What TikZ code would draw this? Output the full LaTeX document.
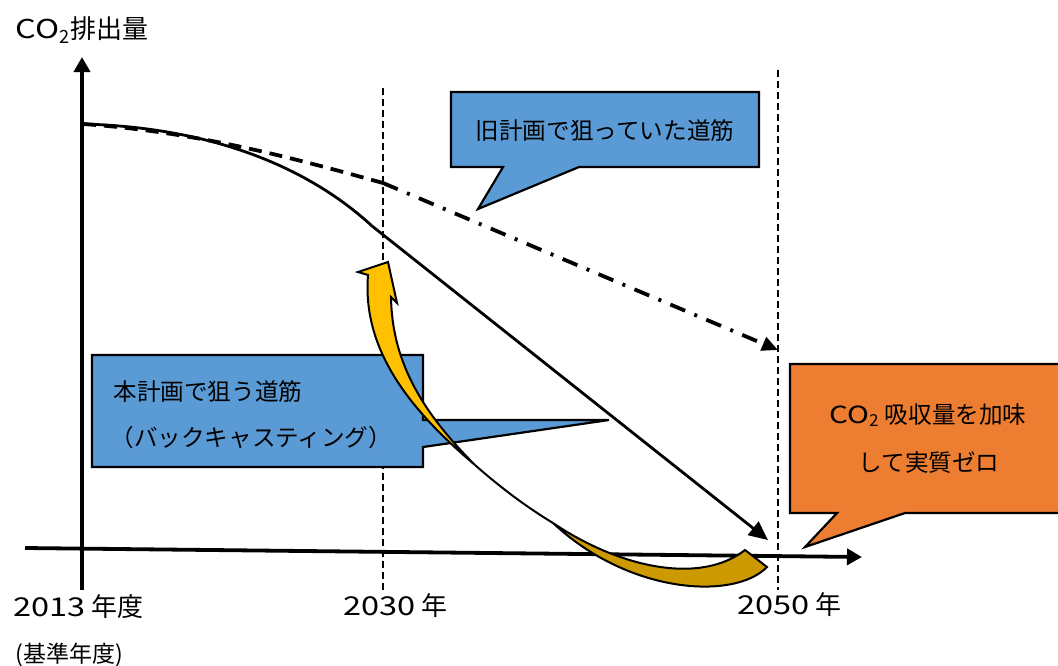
\documentclass[tikz,border=0pt]{standalone}
\usepackage{fontspec}
\setmainfont{Noto Sans CJK JP}
\newfontfamily\widefont[FakeStretch=1.25]{Noto Sans CJK JP}
\usetikzlibrary{arrows.meta,calc}
\usepackage{tkz-euclide}

\definecolor{planblue}{RGB}{91,155,213}
\definecolor{zeroorange}{RGB}{237,125,49}
\definecolor{arrowgold}{RGB}{255,192,0}
\definecolor{arrowdark}{RGB}{204,153,0}

\newcommand{\latinwide}[1]{{\widefont #1}}
\newcommand{\cotwo}{\latinwide{CO}\textsubscript{2}}

\tikzset{
  axisline/.style={line width=1.9pt,-{Triangle[length=7.5pt,width=8pt]}},
  yearline/.style={line width=0.6pt,dash pattern=on 3.5pt off 2pt},
  oldplan/.style={line width=1.9pt},
  newplan/.style={line width=1.4pt},
  callbox/.style={draw=black,line width=1.1pt,line join=miter},
  twist/.style={draw=black,line width=1pt,line join=miter},
  axislabel/.style={inner sep=0pt,anchor=west,font=\fontsize{13}{13}\selectfont},
  boxlabel/.style={inner sep=0pt,font=\fontsize{11.8}{12}\selectfont},
}

\begin{document}
\begin{tikzpicture}[x=0.5pt,y=-0.5pt]
\useasboundingbox (0,0) rectangle (1058,665);

\tkzDefPoints{82/590/Y0,82/57/Y1,25/548/X0,862/557/X1}
\tkzDefPoints{383/88/Ta,383/590/Tb,778/70/Ua,778/590/Ub}

% Define the two emission paths.
\tkzDefPoints{83/124/S,383/183/P,778/350/Q,372/226/K,768/540/E}

% Year lines.
\draw[yearline] (Ta) -- (Tb);
\draw[yearline] (Ua) -- (Ub);

% Axes.
\draw[axisline] (Y0) -- (Y1);
\draw[axisline] (X0) -- (X1);

% Old plan.
\draw[oldplan,dash pattern=on 6.5pt off 4pt] (S) .. controls (200,132) and (300,160) .. (P);
\draw[oldplan,dash pattern=on 8pt off 5pt on 1.5pt off 5pt,
      -{Triangle[length=8pt,width=7pt]}] (P) -- (Q);

% New plan.
\draw[newplan] (S) .. controls (230,128) and (320,178) .. (K);
\draw[newplan,-{Triangle[length=9.5pt,width=8.5pt]}] (K) -- (E);

% Callouts.
\tkzDefPoints{451/92/A1,759/92/A2,759/167/A3,579/167/A4,478/209/A5,503/167/A6,451/167/A7}
\filldraw[callbox,fill=planblue] (A1) -- (A2) -- (A3) -- (A4) -- (A5) -- (A6) -- (A7) -- cycle;

\tkzDefPoints{92/355/B1,423/355/B2,423/420/B3,609/420/B4,423/447/B5,423/467/B6,92/467/B7}
\filldraw[callbox,fill=planblue] (B1) -- (B2) -- (B3) -- (B4) -- (B5) -- (B6) -- (B7) -- cycle;

\tkzDefPoints{790/364/C1,1070/364/C2,1070/513/C3,905/513/C4,805/547/C5,837/513/C6,790/513/C7}
\filldraw[callbox,fill=zeroorange] (C1) -- (C2) -- (C3) -- (C4) -- (C5) -- (C6) -- (C7) -- cycle;

% Back-casting arrow.
\tkzDefPoints{358/272/H1,388/262/H2,397/303/H3,391/297/H4,368/275/H5}
\tkzDefPoints{475/465/T,553/523/D0,745/550/D1,767/567/D2}
\filldraw[twist,fill=arrowgold] (T) .. controls (410,410) and (362,350) .. (H5)
  -- (H1) -- (H2) -- (H3) -- (H4) .. controls (392,360) and (420,410) .. (T) -- cycle;
\draw[twist] (T) .. controls (500,487) and (525,506) .. (D0);
\filldraw[twist,fill=arrowdark] (D0) .. controls (620,568) and (700,585) .. (D1)
  -- (D2) .. controls (735,600) and (630,595) .. (D0) -- cycle;

% Labels.
\node[axislabel] (ylab) at (15,30) {\cotwo{}排出量};
\node[axislabel] (y2013) at (13,607) {\latinwide{2013} 年度};
\node[axislabel,font=\fontsize{11.5}{12}\selectfont] (ybase) at (15,655) {(基準年度)};
\node[axislabel] (y2030) at (343,606) {\latinwide{2030} 年};
\node[axislabel] (y2050) at (737,605) {\latinwide{2050} 年};

\node[boxlabel] (oldtxt) at (605,131) {旧計画で狙っていた道筋};
\node[boxlabel,anchor=west] (newtxt) at (113,392) {本計画で狙う道筋};
\node[boxlabel,anchor=west] (newsub) at (110,438) {（バックキャスティング）};
\node[boxlabel] (zerotxt) at (928,415) {\cotwo{} 吸収量を加味};
\node[boxlabel] (zerosub) at (929,463) {して実質ゼロ};

\end{tikzpicture}
\end{document}
